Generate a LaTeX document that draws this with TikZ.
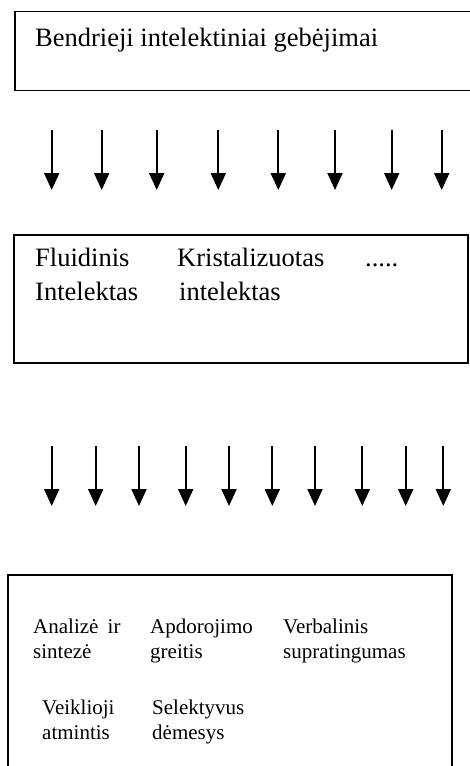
\documentclass[tikz,border=0pt]{standalone}
\usepackage{fontspec}
\setmainfont{Liberation Serif}
\usetikzlibrary{arrows.meta}
\begin{document}
\begin{tikzpicture}[x=1pt,y=-1pt,
  boxstyle/.style={draw,line width=1.8pt,rectangle,inner sep=0pt,anchor=north west},
  bigtxt/.style={inner sep=0pt,anchor=base west,font=\fontsize{26.5}{33}\selectfont},
  smalltxt/.style={inner sep=0pt,anchor=base west,font=\fontsize{21}{25}\selectfont},
  downarrow/.style={line width=2pt,-{Triangle[length=17pt,width=15pt]}}]
\useasboundingbox (0,0) rectangle (469,766);
% boxes
\node[boxstyle,minimum width=480pt,minimum height=79pt] (b1) at (14,10.5) {};
\node[boxstyle,minimum width=454pt,minimum height=128pt] (b2) at (13,234) {};
\node[boxstyle,minimum width=444pt,minimum height=210pt] (b3) at (7,574) {};
% texts
\node[bigtxt] (t1) at (35,46) {Bendrieji intelektiniai gebėjimai};
\node[bigtxt] (t2a) at (35,266.7) {Fluidinis};
\node[bigtxt] (t2b) at (35,300) {Intelektas};
\node[bigtxt] (t2c) at (177,266.7) {Kristalizuotas};
\node[bigtxt] (t2d) at (179,300) {intelektas};
\node[bigtxt] (t2e) at (365,266.7) {.....};
\node[smalltxt] (t3a) at (33,633) {Analizė\hspace{4pt} ir};
\node[smalltxt] (t3b) at (33,658) {sintezė};
\node[smalltxt] (t3c) at (150,633) {Apdorojimo};
\node[smalltxt] (t3d) at (150,658) {greitis};
\node[smalltxt] (t3e) at (283,633) {Verbalinis};
\node[smalltxt] (t3f) at (283,658) {supratingumas};
\node[smalltxt] (t3g) at (42,714) {Veiklioji};
\node[smalltxt] (t3h) at (42,739) {atmintis};
\node[smalltxt] (t3i) at (152,714) {Selektyvus};
\node[smalltxt] (t3j) at (152,739) {dėmesys};
% arrows row 1
\foreach \i/\x in {1/51.7,2/101.7,3/156.7,4/218.3,5/278.3,6/335,7/391.7,8/441.7}{
  \coordinate (ua\i) at (\x,130);
  \coordinate (la\i) at (\x,190);
  \draw[downarrow] (ua\i) -- (la\i);
}
% arrows row 2
\foreach \i/\x in {1/51.7,2/95.7,3/139,4/185.7,5/229,6/272.3,7/315,8/362.3,9/405.7,10/443.3}{
  \coordinate (ub\i) at (\x,446);
  \coordinate (lb\i) at (\x,506);
  \draw[downarrow] (ub\i) -- (lb\i);
}
\end{tikzpicture}
\end{document}
